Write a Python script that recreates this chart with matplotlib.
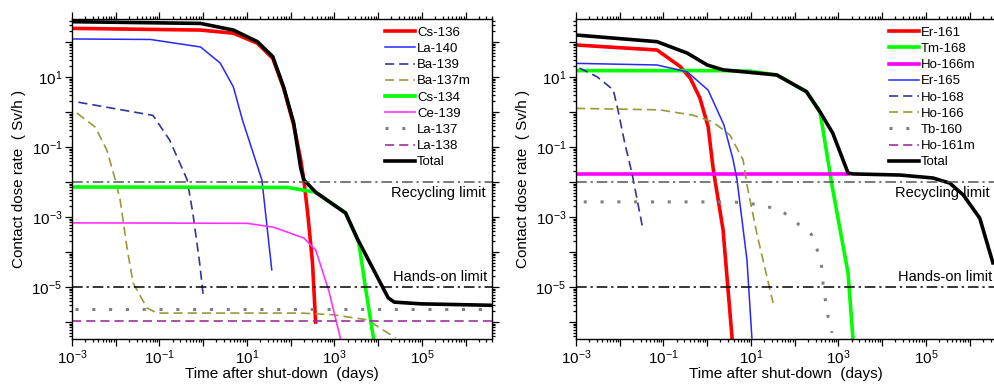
import numpy as np
import matplotlib
matplotlib.use("Agg")
import matplotlib.pyplot as plt
from matplotlib.ticker import LogLocator, FuncFormatter, NullFormatter

plt.rcParams['font.family'] = ['Liberation Sans', 'DejaVu Sans']
plt.rcParams['mathtext.default'] = 'regular'

# === Left panel: nuclide contributions (time in days, dose in Sv/h) ===
cs136_t = [1e-3, 0.87, 4.9, 17.4, 39, 69, 117, 170, 200, 245, 316, 372]
cs136_d = [245, 219, 178, 92, 34, 4.8, 0.43, 0.043, 0.0115, 1.3e-3, 4.9e-5, 1e-6]

la140_t = [1e-3, 0.062, 0.87, 2.45, 4.9, 7.9, 22, 37]
la140_d = [122, 118, 72, 25, 5.2, 0.59, 0.0115, 3.1e-5]

ba139_t = [1.4e-3, 0.071, 0.17, 0.32, 0.43, 0.58, 0.83, 1.0]
ba139_d = [1.9, 0.8, 0.16, 0.027, 0.0115, 1.3e-3, 4.9e-5, 5.9e-6]

ba137m_t = [1.3e-3, 3.4e-3, 6.3e-3, 9.8e-3, 0.0126, 0.018, 0.025, 0.052, 0.089, 170, 980, 5700, 25000]
ba137m_d = [0.93, 0.37, 0.081, 0.0115, 3.1e-3, 1.4e-4, 1.3e-5, 2.5e-6, 1.8e-6, 1.8e-6, 1.6e-6, 1.15e-6, 3.5e-7]

cs134_t = [1e-3, 85, 282, 372, 1820, 3630, 5250, 7940]
cs134_d = [7.2e-3, 7.0e-3, 5.4e-3, 5.1e-3, 1.3e-3, 1.8e-4, 8.1e-6, 3.1e-7]

ce139_t = [1e-3, 10, 41, 200, 373, 740, 1400]
ce139_d = [6.8e-4, 6.6e-4, 5.1e-4, 2.5e-4, 1.15e-4, 8.1e-6, 3.1e-7]

la137_t = [1.2e-3, 4e6]
la137_d = [2.35e-6, 2.35e-6]

la138_t = [1e-3, 4e6]
la138_d = [1.07e-6, 1.07e-6]

total_l_t = [1e-3, 0.87, 4.9, 17.4, 39, 69, 117, 170, 200, 373, 1800, 3470, 17000, 23400, 95000, 4e6]
total_l_d = [380, 339, 219, 102, 38, 5.2, 0.49, 0.025, 0.0115, 5.1e-3, 1.3e-3, 2.2e-4, 4.9e-6, 3.7e-6, 3.3e-6, 3.0e-6]

# === Right panel ===
er161_t = [1e-3, 0.071, 0.24, 0.41, 0.68, 1.05, 1.35, 1.5, 1.78, 2.3, 3.7]
er161_d = [82, 59, 20, 9.2, 2.5, 0.38, 0.027, 0.0115, 3.1e-3, 4.3e-4, 3.5e-7]

tm168_t = [1e-3, 2.3, 10, 39, 186, 380, 710, 1660, 2140]
tm168_d = [15.2, 15.2, 14.5, 11.4, 3.8, 1.0, 8.2e-3, 2.5e-5, 3.5e-7]

ho166m_t = [1e-3, 1660]
ho166m_d = [0.017, 0.017]

er165_t = [1e-3, 0.071, 0.35, 1.05, 2.4, 3.9, 4.8, 8.1, 10.5]
er165_d = [24.5, 22, 14, 4.2, 0.43, 0.043, 0.0115, 5.9e-5, 3.5e-7]

ho168_t = [1.2e-3, 3.0e-3, 7.1e-3, 9.1e-3, 0.013, 0.019, 0.025, 0.034]
ho168_d = [18, 10.2, 4.3, 1.15, 0.13, 0.018, 3.1e-3, 4.3e-4]

ho166_t = [1e-3, 0.083, 0.47, 1.35, 3.3, 6.6, 8.1, 13.8, 32]
ho166_d = [1.27, 1.15, 0.81, 0.52, 0.22, 0.043, 8.2e-3, 3.1e-4, 3.5e-6]

tb160_t = [1.5e-3, 3.9, 18.6, 54, 245, 340, 420, 450, 580, 710]
tb160_d = [2.7e-3, 2.7e-3, 2.2e-3, 1.4e-3, 3.1e-4, 1.0e-4, 3.5e-5, 1.0e-5, 1.4e-6, 4.9e-7]

# Ho-161m stays below the plotted range
ho161m_t = [1e-3, 4e6]
ho161m_d = [1e-7, 1e-7]

total_r_t = [1e-3, 0.071, 0.35, 1.0, 2.3, 39, 186, 380, 740, 1660, 2140, 25700, 1.45e5, 3.5e5, 7.1e5, 1.7e6, 3.4e6]
total_r_d = [158, 102, 48, 22, 16, 11.4, 3.8, 1.0, 0.25, 0.018, 0.017, 0.0158, 0.013, 9.3e-3, 4.3e-3, 9.3e-4, 4.9e-5]

recycling_limit = 1e-2
hands_on_limit = 1e-5

DASH = (0, (5.5, 3))
DOT = (0, (1, 4.5))
DASHDOT = (0, (7, 2.5, 1.5, 2.5))

left_series = [
    ("Cs-136", cs136_t, cs136_d, dict(color='#ff0000', lw=2.6)),
    ("La-140", la140_t, la140_d, dict(color='#2626ff', lw=1.1)),
    ("Ba-139", ba139_t, ba139_d, dict(color='#333399', lw=1.2, ls=DASH)),
    ("Ba-137m", ba137m_t, ba137m_d, dict(color='#99993a', lw=1.2, ls=DASH)),
    ("Cs-134", cs134_t, cs134_d, dict(color='#00ff00', lw=2.6)),
    ("Ce-139", ce139_t, ce139_d, dict(color='#ff33ff', lw=1.2)),
    ("La-137", la137_t, la137_d, dict(color='#808080', lw=2.2, ls=DOT)),
    ("La-138", la138_t, la138_d, dict(color='#a030a0', lw=1.2, ls=DASH)),
    ("Total", total_l_t, total_l_d, dict(color='black', lw=2.6)),
]

right_series = [
    ("Er-161", er161_t, er161_d, dict(color='#ff0000', lw=2.6)),
    ("Tm-168", tm168_t, tm168_d, dict(color='#00ff00', lw=2.6)),
    ("Ho-166m", ho166m_t, ho166m_d, dict(color='#ff00ff', lw=2.6)),
    ("Er-165", er165_t, er165_d, dict(color='#2626ff', lw=1.1)),
    ("Ho-168", ho168_t, ho168_d, dict(color='#333399', lw=1.2, ls=DASH)),
    ("Ho-166", ho166_t, ho166_d, dict(color='#99993a', lw=1.2, ls=DASH)),
    ("Tb-160", tb160_t, tb160_d, dict(color='#808080', lw=2.2, ls=DOT)),
    ("Ho-161m", ho161m_t, ho161m_d, dict(color='#a030a0', lw=1.2, ls=DASH)),
    ("Total", total_r_t, total_r_d, dict(color='black', lw=2.6)),
]


def odd_decade(v, pos):
    e = int(round(np.log10(v)))
    return r'$10^{%d}$' % e if e % 2 else ''


def setup_axes(ax, series):
    for name, t, d, style in series:
        ax.plot(t, d, label=name, **style)

    ax.axhline(recycling_limit, color='#555555', lw=1.1, ls=DASHDOT)
    ax.axhline(hands_on_limit, color='black', lw=1.1, ls=DASHDOT)
    trans = ax.get_yaxis_transform()
    ax.text(0.985, 4.9e-3, "Recycling limit", transform=trans, ha='right', va='center', fontsize=10.5)
    ax.text(0.99, 1.9e-5, "Hands-on limit", transform=trans, ha='right', va='center', fontsize=10.5)

    ax.set_xscale('log')
    ax.set_yscale('log')
    ax.set_xlim(1e-3, 4e6)
    ax.set_ylim(3.27e-7, 454)

    for axis in (ax.xaxis, ax.yaxis):
        axis.set_major_locator(LogLocator(base=10, numticks=30))
        axis.set_minor_locator(LogLocator(base=10, subs=np.arange(2, 10), numticks=30))
        axis.set_major_formatter(FuncFormatter(odd_decade))
        axis.set_minor_formatter(NullFormatter())

    ax.tick_params(which='both', direction='out', top=True, right=True, width=0.9)
    ax.tick_params(which='major', length=5, labelsize=11, pad=2)
    ax.tick_params(which='minor', length=2.5)
    for s in ax.spines.values():
        s.set_linewidth(1.0)

    ax.set_xlabel("Time after shut-down  (days)", fontsize=11, labelpad=0)
    ax.set_ylabel("Contact dose rate  ( Sv/h )", fontsize=11, labelpad=4)

    ax.legend(loc='upper left', bbox_to_anchor=(0.745, 0.976), frameon=False,
              fontsize=9.5, handlelength=2.3, handletextpad=0.15,
              labelspacing=0.3, borderaxespad=0, borderpad=0)


fig = plt.figure(figsize=(9.94, 3.85), dpi=100)
ax1 = fig.add_axes([0.0724, 0.1195, 0.4225, 0.8312])
ax2 = fig.add_axes([0.5795, 0.1195, 0.4225, 0.8312])

setup_axes(ax1, left_series)
setup_axes(ax2, right_series)

fig.savefig("out.png", dpi=100)
